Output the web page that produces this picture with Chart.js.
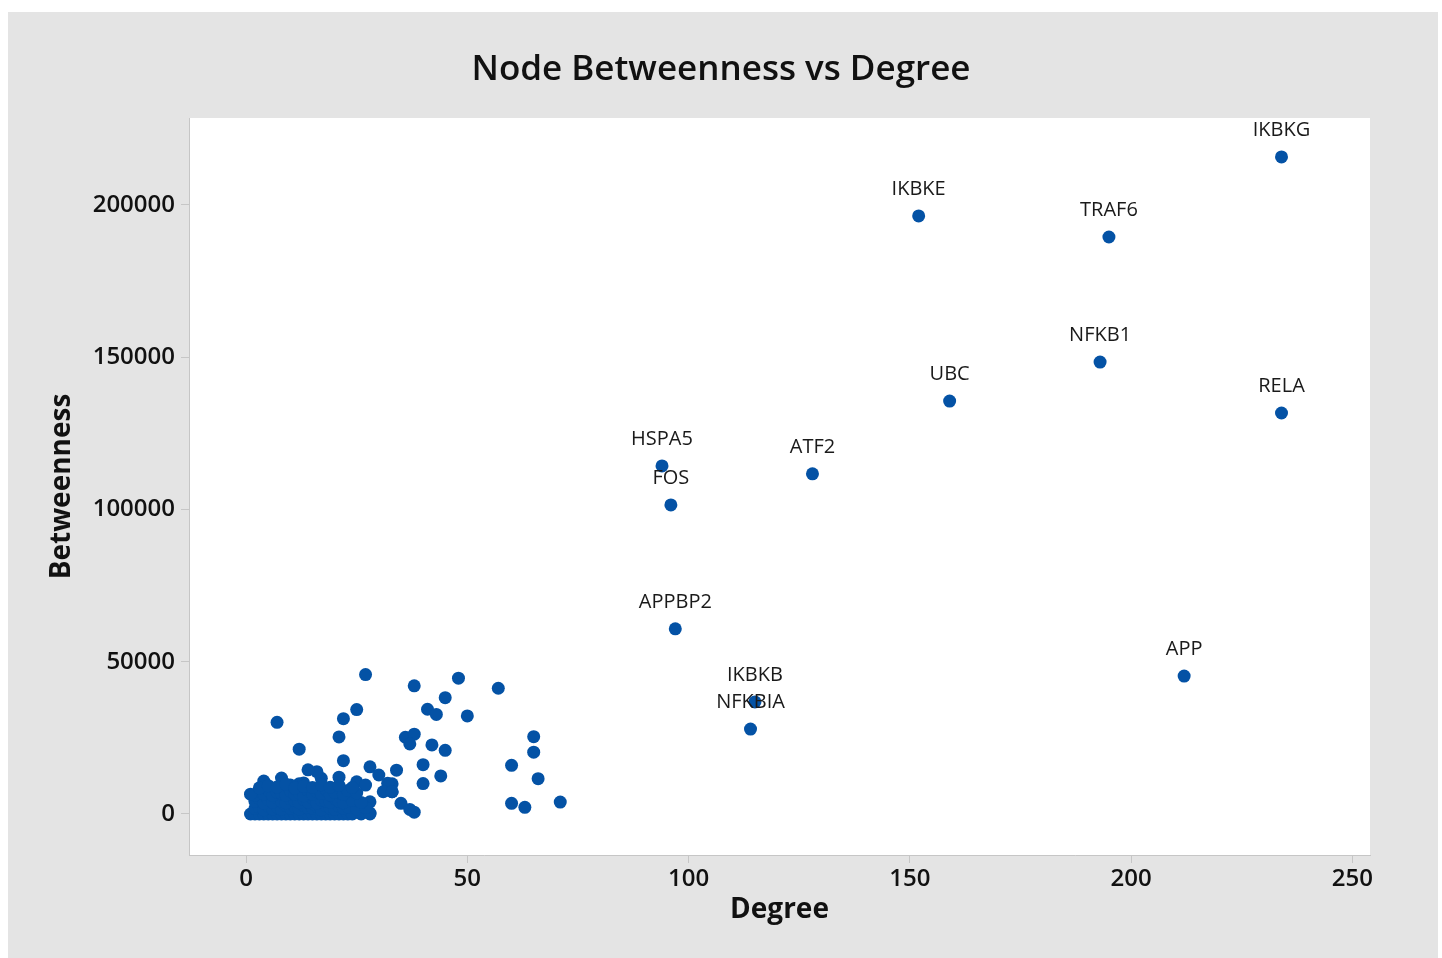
<!DOCTYPE html>
<html>
<head>
<meta charset="utf-8">
<script src="https://cdn.jsdelivr.net/npm/chart.js@4.4.1/dist/chart.umd.min.js"></script>
<style>
    html, body { margin: 0; padding: 0; background: #fff; }
    #wrap { width: 1442px; height: 958px; }
</style>
</head>
<body>
<div id="wrap"><canvas id="scatterChart"></canvas></div>
<script>
// labelled hub nodes
const hubNames = ['IKBKG', 'IKBKE', 'TRAF6', 'NFKB1', 'UBC', 'RELA', 'HSPA5', 'FOS', 'ATF2', 'APPBP2', 'IKBKB', 'NFKBIA', 'APP'];
const hubDegree = [234, 152, 195, 193, 159, 234, 94, 96, 128, 97, 115, 114, 212];
const hubBetweenness = [215800, 196400, 189500, 148400, 135600, 131700, 114300, 101500, 111700, 60800, 36800, 27900, 45300];

// all other nodes
const nodeDegree = [
    27, 7, 22, 25, 21, 12, 36, 22, 38, 48, 57, 45, 41, 43, 50, 38, 37, 42, 45, 65,
    65, 60, 40, 34, 44, 66, 40, 33, 33, 35, 37, 38, 60, 63, 71, 28, 30, 32, 31, 33,
    28, 26, 25, 21, 17, 16, 14, 12, 13, 10, 8, 4, 27, 28,
    1, 2, 3, 4, 5, 6, 7, 8, 9, 10, 11, 12, 13, 14, 15, 16, 17, 18, 19, 20, 21, 22, 23, 24, 26, 28,
    2, 3, 4, 5, 6, 7, 8, 9, 10, 11, 12, 13, 14, 15, 16, 17, 18, 19, 20, 21, 22, 23, 25, 27,
    2, 3, 4, 5, 6, 7, 8, 9, 10, 11, 12, 13, 14, 15, 16, 17, 18, 19, 20, 21, 22, 24, 26,
    2, 3, 4, 5, 6, 7, 8, 9, 10, 11, 12, 13, 14, 15, 16, 17, 18, 19, 20, 22, 23, 25,
    1, 3, 5, 7, 9, 11, 13, 15, 17, 19, 21, 24
];
const nodeBetweenness = [
    45800, 30100, 31300, 34300, 25300, 21300, 25200, 17500, 42100, 44600, 41300, 38200, 34400, 32700, 32200, 26200, 23000, 22700, 20900, 25400,
    20300, 16000, 16200, 14400, 12500, 11600, 10000, 9900, 7300, 3500, 1500, 600, 3500, 2200, 3900, 15500, 12800, 10100, 7300, 7300,
    4000, 300, 10600, 12100, 11700, 13900, 14500, 9900, 10200, 9500, 11800, 10800, 9500, 300,
    0, 0, 0, 0, 0, 0, 0, 0, 0, 0, 0, 0, 0, 0, 0, 0, 0, 0, 0, 0, 0, 0, 0, 0, 0, 0,
    1800, 2200, 1400, 2600, 1700, 2300, 1500, 2800, 1900, 2400, 1600, 2900, 2100, 1800, 2500, 1400, 2700, 2000, 1600, 2600, 1900, 2300, 1700, 2100,
    4200, 5100, 3600, 4700, 3900, 5400, 4100, 3700, 5000, 4400, 3800, 4900, 4000, 5300, 3600, 4600, 4300, 3900, 5200, 4100, 3700, 4500, 3800,
    6300, 7400, 6600, 7900, 6100, 7200, 6800, 6200, 7600, 6500, 7000, 6000, 7800, 6400, 7300, 6700, 8200, 6300, 7100, 6500, 7700, 6900,
    6500, 8600, 9300, 8900, 9800, 8500, 9100, 8700, 9600, 8800, 9400, 8700
];

const yTicks = [0, 50000, 100000, 150000, 200000];
const xTicks = [0, 50, 100, 150, 200, 250];

const dotColor = '#0452a5';
const fontFamily = "'Open Sans', 'Noto Sans', sans-serif";

const toPoints = (xs, ys) => xs.map((x, i) => ({ x: x, y: ys[i] }));

// gray frame with a white plotting area
const framePlugin = {
    id: 'frame',
    beforeDraw(chart) {
        const { ctx, chartArea } = chart;
        ctx.save();
        ctx.fillStyle = '#ffffff';
        ctx.fillRect(0, 0, chart.width, chart.height);
        ctx.fillStyle = '#e4e4e4';
        ctx.fillRect(8, 12, 1430, chart.height - 12);
        ctx.fillStyle = '#ffffff';
        ctx.fillRect(chartArea.left, chartArea.top, chartArea.right - chartArea.left, chartArea.bottom - chartArea.top);
        ctx.restore();
    },
};

// node names above the hub points
const hubLabelPlugin = {
    id: 'hubLabels',
    afterDatasetsDraw(chart) {
        const { ctx } = chart;
        const meta = chart.getDatasetMeta(1);
        ctx.save();
        ctx.font = '20px ' + fontFamily;
        ctx.fillStyle = '#1a1a1a';
        ctx.textAlign = 'center';
        ctx.textBaseline = 'middle';
        meta.data.forEach((pt, i) => {
            ctx.fillText(hubNames[i], pt.x, pt.y - 27);
        });
        ctx.restore();
    },
};

document.addEventListener('DOMContentLoaded', () => {
    const ctx = document.getElementById('scatterChart');

    new Chart(ctx, {
        type: 'scatter',
        data: {
            datasets: [
                {
                    label: 'Nodes',
                    data: toPoints(nodeDegree, nodeBetweenness),
                    backgroundColor: dotColor,
                    borderColor: dotColor,
                    borderWidth: 0,
                    pointRadius: 6.5,
                },
                {
                    label: 'Hubs',
                    data: toPoints(hubDegree, hubBetweenness),
                    backgroundColor: dotColor,
                    borderColor: dotColor,
                    borderWidth: 0,
                    pointRadius: 6.5,
                },
            ],
        },
        options: {
            responsive: true,
            maintainAspectRatio: false,
            animation: false,
            layout: { padding: 0 },
            plugins: {
                legend: { display: false },
                tooltip: { enabled: false },
                title: {
                    display: true,
                    text: 'Node Betweenness vs Degree',
                    color: '#111',
                    font: { family: fontFamily, size: 35, weight: '600', lineHeight: 1.2 },
                    padding: { top: 49, bottom: 27 },
                },
            },
            scales: {
                x: {
                    type: 'linear',
                    min: -12.9,
                    max: 254,
                    afterBuildTicks: (scale) => {
                        scale.ticks = xTicks.map((v) => ({ value: v }));
                    },
                    afterFit: (scale) => { scale.height = 103; },
                    grid: { drawOnChartArea: false, drawTicks: true, tickLength: 8, color: '#c6c6c6' },
                    border: { display: true, color: '#c6c6c6' },
                    ticks: {
                        color: '#111',
                        padding: 2,
                        font: { family: fontFamily, size: 24, weight: '600' },
                    },
                    title: {
                        display: true,
                        text: 'Degree',
                        color: '#111',
                        font: { family: fontFamily, size: 28, weight: 'bold', lineHeight: 1.2 },
                        padding: { bottom: 31 },
                    },
                },
                y: {
                    type: 'linear',
                    min: -13465,
                    max: 228571,
                    afterBuildTicks: (scale) => {
                        scale.ticks = yTicks.map((v) => ({ value: v }));
                    },
                    afterFit: (scale) => { scale.width = 189; },
                    grid: { drawOnChartArea: false, drawTicks: true, tickLength: 8, color: '#c6c6c6' },
                    border: { display: true, color: '#c6c6c6' },
                    ticks: {
                        color: '#111',
                        padding: 6,
                        font: { family: fontFamily, size: 24, weight: '600' },
                        callback: (value) => String(value),
                    },
                    title: {
                        display: true,
                        text: 'Betweenness',
                        color: '#111',
                        font: { family: fontFamily, size: 28, weight: 'bold', lineHeight: 1.2 },
                        padding: { top: 45 },
                    },
                },
                // empty right-hand strip so the title stays centred on the whole frame
                yRight: {
                    type: 'linear',
                    position: 'right',
                    display: true,
                    afterFit: (scale) => { scale.width = 72; },
                    grid: { display: false },
                    border: { display: false },
                    ticks: { display: false },
                },
            },
        },
        plugins: [framePlugin, hubLabelPlugin],
    });
});
</script>
</body>
</html>
